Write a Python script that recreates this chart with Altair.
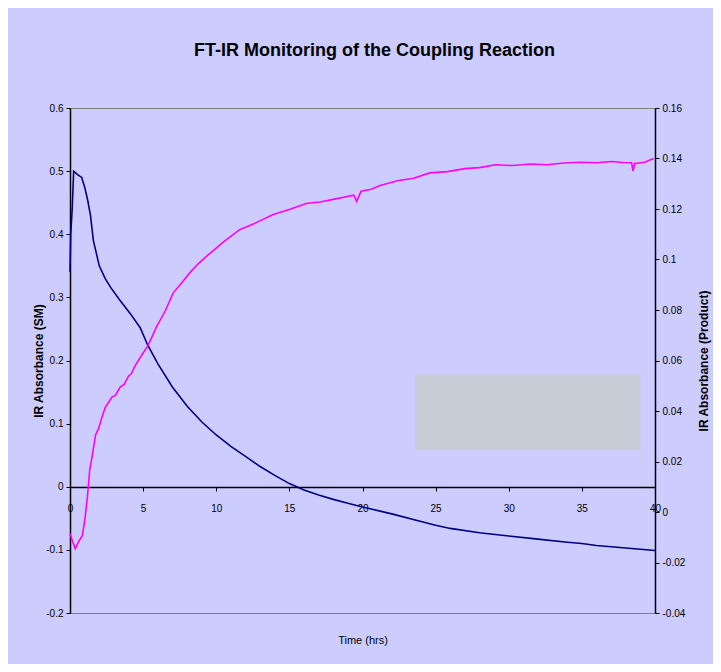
import altair as alt
import pandas as pd

# Starting material (SM), left axis
sm_time = [0, 0.05, 0.15, 0.25, 0.5, 0.8, 1.0, 1.2, 1.4, 1.6, 1.8, 2.0, 2.4, 2.8, 3.4, 4.1,
           4.8, 5.3, 6, 7, 8, 9, 10, 11, 12, 13, 14, 15, 16, 17, 18, 19, 20, 22, 24, 25,
           26, 28, 30, 32, 34, 35, 36, 38, 39, 40]
sm_abs = [0.34, 0.40, 0.44, 0.50, 0.495, 0.49, 0.475, 0.455, 0.43, 0.39, 0.37, 0.35, 0.33,
          0.315, 0.296, 0.275, 0.252, 0.225, 0.195, 0.158, 0.128, 0.103, 0.082, 0.064,
          0.048, 0.032, 0.018, 0.005, -0.005, -0.013, -0.020, -0.026, -0.032, -0.043,
          -0.055, -0.061, -0.066, -0.073, -0.078, -0.083, -0.088, -0.090, -0.093, -0.097,
          -0.099, -0.101]

# Product, right axis
pr_time = [0, 0.18, 0.36, 0.58, 0.85, 1.03, 1.19, 1.35, 1.52, 1.75, 1.97, 2.2, 2.42, 2.87,
           3.1, 3.43, 3.7, 4.0, 4.2, 4.44, 4.89, 5.34, 5.93, 6.5, 7.06, 7.6, 8.2, 8.8, 9.35,
           10.5, 11.6, 12.7, 13.9, 15.0, 16.2, 17.1, 18, 19.4, 19.6, 19.9, 20.6, 21.2, 22.4,
           23.5, 24.6, 25.8, 27, 28.0, 29.1, 30.3, 31.5, 32.6, 33.8, 34.9, 36.0, 37, 37.8,
           38.4, 38.5, 38.6, 39.3, 39.9]
pr_abs = [-0.0085, -0.0118, -0.0145, -0.0118, -0.0093, -0.0023, 0.006, 0.0168, 0.0223,
          0.0305, 0.0333, 0.0378, 0.0415, 0.0455, 0.0462, 0.0495, 0.0505, 0.0538, 0.0548,
          0.0578, 0.062, 0.066, 0.0735, 0.0795, 0.0868, 0.0905, 0.0948, 0.0985, 0.1013,
          0.1070, 0.1118, 0.1145, 0.1178, 0.1198, 0.1223, 0.1228, 0.1238, 0.1255, 0.123,
          0.127, 0.1278, 0.1293, 0.1312, 0.1322, 0.1343, 0.1348, 0.136, 0.1364, 0.1375,
          0.1372, 0.1378, 0.1375, 0.1382, 0.1385, 0.1383, 0.1388, 0.1384, 0.1383, 0.135,
          0.138, 0.1385, 0.14]

# empty legend box (in data units of the left axis)
box_t = [23.6, 39.0]
box_v = [0.0586, 0.1775]

x_ticks = [0, 5, 10, 15, 20, 25, 30, 35, 40]
left_ticks = [-0.2, -0.1, 0, 0.1, 0.2, 0.3, 0.4, 0.5, 0.6]
right_ticks = [-0.04, -0.02, 0, 0.02, 0.04, 0.06, 0.08, 0.1, 0.12, 0.14, 0.16]

sm_df = pd.DataFrame({"t": sm_time, "v": sm_abs})
pr_df = pd.DataFrame({"t": pr_time, "v": pr_abs})
box_df = pd.DataFrame({"t": [box_t[0]], "t2": [box_t[1]], "v": [box_v[0]], "v2": [box_v[1]]})

FONT = "Liberation Sans"
xscale = alt.Scale(domain=[0, 40], nice=False, zero=False)
lscale = alt.Scale(domain=[-0.2, 0.6], nice=False, zero=False)
rscale = alt.Scale(domain=[-0.04, 0.16], nice=False, zero=False)

xaxis = alt.Axis(values=x_ticks, title="Time (hrs)", offset=-126, grid=False,
                 domainColor="black", domainWidth=1.5, tickColor="black", tickSize=4,
                 labelPadding=12, labelFontSize=10, labelFont=FONT, labelColor="black",
                 titleFont=FONT, titleFontSize=11, titleFontWeight="normal", titleColor="black",
                 titleY=147, labelFlush=False)
laxis = alt.Axis(values=left_ticks, title="IR Absorbance (SM)", grid=False,
                 domainColor="black", domainWidth=1.5, tickColor="black", tickSize=4,
                 labelFontSize=10, labelFont=FONT, labelColor="black", labelPadding=3,
                 labelExpr="toString(round(datum.value*10)/10)",
                 titleFont=FONT, titleFontSize=12, titleFontWeight="bold", titleColor="black",
                 titlePadding=0)
raxis = alt.Axis(values=right_ticks, title="IR Absorbance (Product)", orient="right", grid=False,
                 domainColor="black", domainWidth=1.5, tickColor="black", tickSize=4,
                 labelFontSize=10, labelFont=FONT, labelColor="black", labelPadding=3,
                 labelExpr="toString(round(datum.value*100)/100)",
                 titleFont=FONT, titleFontSize=12, titleFontWeight="bold", titleColor="black",
                 titleAngle=270, titlePadding=26)

box = alt.Chart(box_df).mark_rect(color="#C7CDD7").encode(
    x=alt.X("t:Q", scale=xscale, axis=xaxis),
    x2="t2:Q",
    y=alt.Y("v:Q", scale=lscale, axis=laxis),
    y2="v2:Q",
)

sm_line = alt.Chart(sm_df).mark_line(color="#000080", strokeWidth=1.6).encode(
    x=alt.X("t:Q", scale=xscale),
    y=alt.Y("v:Q", scale=lscale),
)

left = alt.layer(box, sm_line)

pr_line = alt.Chart(pr_df).mark_line(color="#FF00FF", strokeWidth=1.6).encode(
    x=alt.X("t:Q", scale=xscale),
    y=alt.Y("v:Q", scale=rscale, axis=raxis),
)

chart = alt.layer(left, pr_line).resolve_scale(y="independent").properties(
    width=585, height=505,
    title=alt.TitleParams("FT-IR Monitoring of the Coupling Reaction", font=FONT, fontSize=18,
                          fontWeight="bold", color="black", offset=43, dx=12),
    autosize=alt.AutoSizeParams(type="none"),
    padding={"left": 62, "top": 100, "right": 58, "bottom": 51},
    background="#CCCCFF",
).configure_view(stroke="#808080", strokeWidth=1)

chart.save("out.html", embed_options={"renderer": "svg", "actions": False})
